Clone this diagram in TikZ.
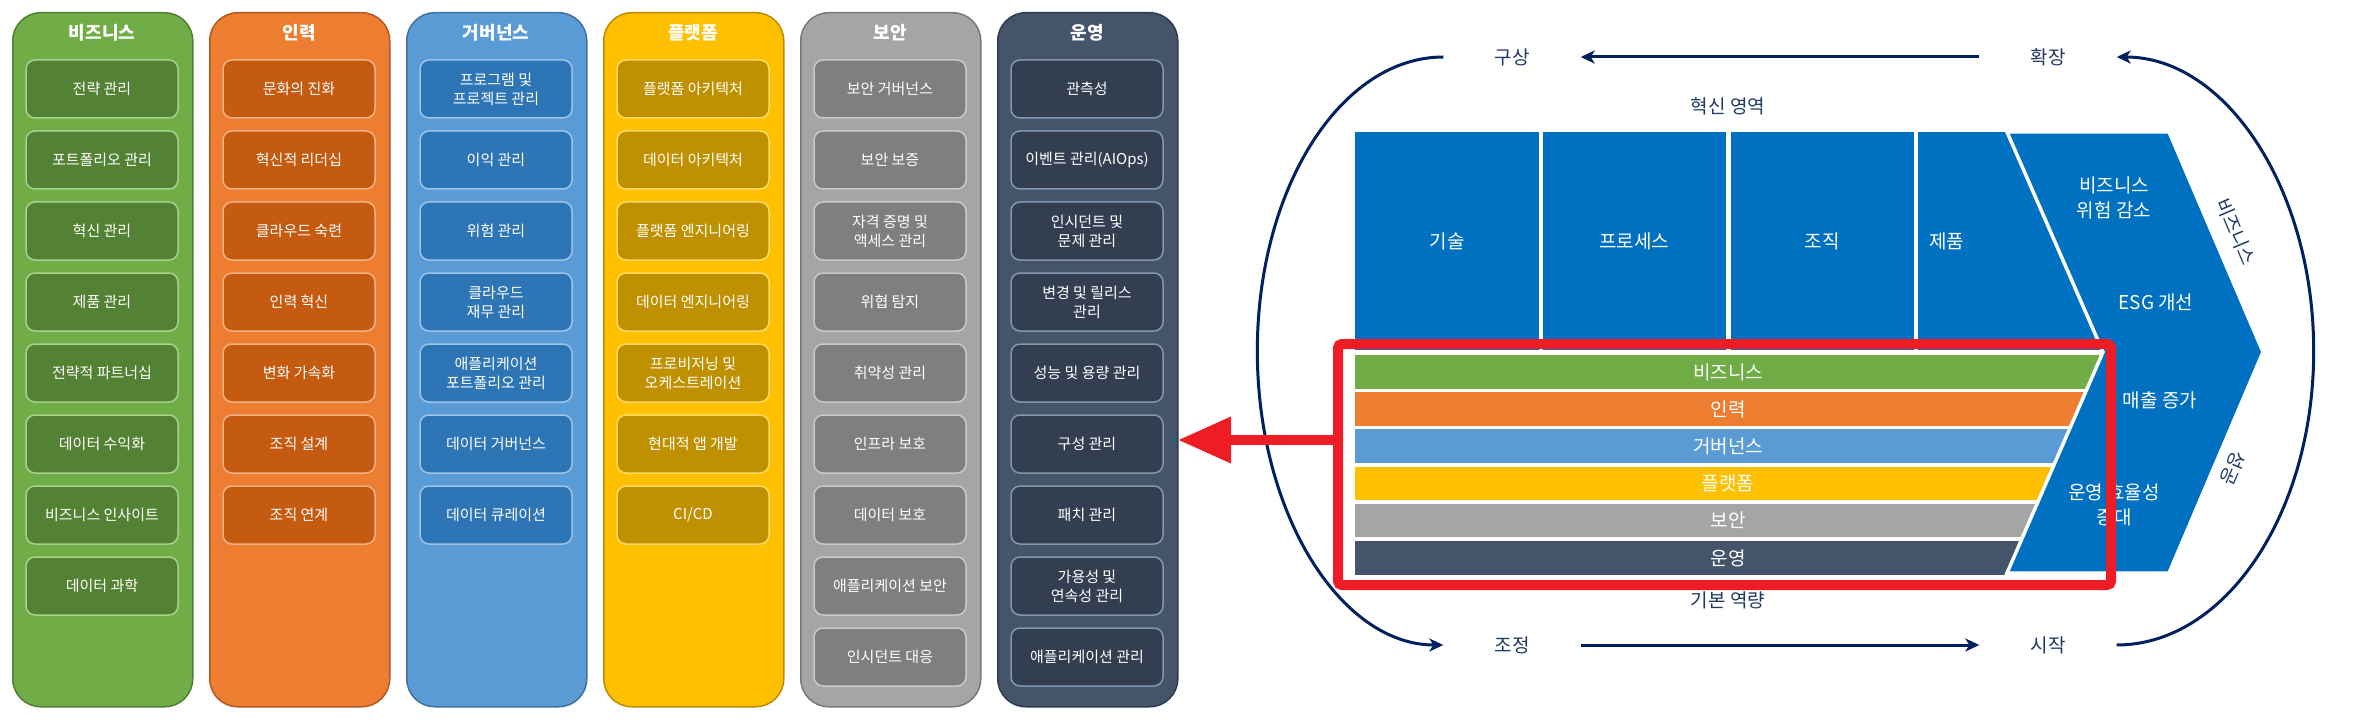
\documentclass[tikz,border=0pt]{standalone}
\usepackage{fontspec}
\setmainfont{Noto Sans CJK KR}
\usetikzlibrary{arrows.meta}

\definecolor{cgreen}{HTML}{70AD47}\definecolor{cgreenD}{HTML}{548235}\definecolor{cgreenL}{HTML}{A9D18E}\definecolor{cgreenB}{HTML}{507E32}
\definecolor{corange}{HTML}{ED7D31}\definecolor{corangeD}{HTML}{C55A11}\definecolor{corangeL}{HTML}{F4B183}\definecolor{corangeB}{HTML}{AE5A21}
\definecolor{cblue}{HTML}{5B9BD5}\definecolor{cblueD}{HTML}{2E75B6}\definecolor{cblueL}{HTML}{9DC3E6}\definecolor{cblueB}{HTML}{41719C}
\definecolor{cyellow}{HTML}{FFC000}\definecolor{cyellowD}{HTML}{BF9000}\definecolor{cyellowL}{HTML}{FFD966}\definecolor{cyellowB}{HTML}{BC8C00}
\definecolor{cgray}{HTML}{A5A5A5}\definecolor{cgrayD}{HTML}{7F7F7F}\definecolor{cgrayL}{HTML}{C9C9C9}\definecolor{cgrayB}{HTML}{787878}
\definecolor{cdark}{HTML}{44546A}\definecolor{cdarkD}{HTML}{333F50}\definecolor{cdarkL}{HTML}{8497B0}\definecolor{cdarkB}{HTML}{2F3B4C}
\definecolor{bblue}{HTML}{0070C0}
\definecolor{navy}{HTML}{002060}
\definecolor{navyT}{HTML}{203864}
\definecolor{redc}{HTML}{EE1C25}

\tikzset{
  colbox/.style={draw=#1B, fill=#1, line width=1.5pt, rounded corners=28pt,
    minimum width=180pt, minimum height=694pt, anchor=north west, inner sep=0pt},
  coltitle/.style={text=white, font=\bfseries\fontsize{18}{21}\selectfont, inner sep=0pt},
  itembox/.style={draw=#1L, fill=#1D, line width=1.5pt, rounded corners=9pt,
    minimum width=152pt, minimum height=58pt, text=white, align=center,
    font=\fontsize{15}{19}\selectfont, inner sep=0pt},
  wlabel/.style={text=white, align=center, font=\fontsize{19}{25}\selectfont, inner sep=0pt},
  nlabel/.style={text=navyT, align=center, font=\fontsize{19}{25}\selectfont, inner sep=0pt},
  cyclelabel/.style={text=navyT, font=\fontsize{19}{22}\selectfont, inner xsep=51pt, inner ysep=0pt},
  navyline/.style={draw=navy, line width=3pt},
  navyarrow/.style={navyline, -{Stealth[length=14pt,width=13pt,inset=4pt]}},
  redarrow/.style={draw=redc, line width=10pt, -{Triangle[length=53pt,width=44pt]}},
  redframe/.style={draw=redc, line width=10pt, rounded corners=4pt, inner sep=0pt,
    minimum width=773pt, minimum height=241pt},
}

\newcommand{\capcolumn}[4]{%
  \pgfmathsetmacro{\colx}{12+197*#1}
  \node[colbox=#2] (col#1) at (\colx,12) {};
  \node[coltitle] (title#1) at (\colx+90,33) {#3};
  \foreach \t [count=\i from 0] in {#4} {
    \node[itembox=#2] (item#1-\i) at (\colx+90, 89+71*\i) {\t};
  }
}

\begin{document}
\begin{tikzpicture}[x=1pt, y=-1pt]
\useasboundingbox (0,0) rectangle (2356,722);
\fill[white] (0,0) rectangle (2356,722);

% ---------- left: capability columns ----------
\capcolumn{0}{cgreen}{비즈니스}{전략 관리, 포트폴리오 관리, 혁신 관리, 제품 관리, 전략적 파트너십, 데이터 수익화, 비즈니스 인사이트, 데이터 과학}
\capcolumn{1}{corange}{인력}{문화의 진화, 혁신적 리더십, 클라우드 숙련, 인력 혁신, 변화 가속화, 조직 설계, 조직 연계}
\capcolumn{2}{cblue}{거버넌스}{{프로그램 및\\프로젝트 관리}, 이익 관리, 위험 관리, {클라우드\\재무 관리}, {애플리케이션\\포트폴리오 관리}, 데이터 거버넌스, 데이터 큐레이션}
\capcolumn{3}{cyellow}{플랫폼}{플랫폼 아키텍처, 데이터 아키텍처, 플랫폼 엔지니어링, 데이터 엔지니어링, {프로비저닝 및\\오케스트레이션}, 현대적 앱 개발, CI/CD}
\capcolumn{4}{cgray}{보안}{보안 거버넌스, 보안 보증, {자격 증명 및\\액세스 관리}, 위협 탐지, 취약성 관리, 인프라 보호, 데이터 보호, 애플리케이션 보안, 인시던트 대응}
\capcolumn{5}{cdark}{운영}{관측성, 이벤트 관리(AIOps), {인시던트 및\\문제 관리}, {변경 및 릴리스\\관리}, 성능 및 용량 관리, 구성 관리, 패치 관리, {가용성 및\\연속성 관리}, 애플리케이션 관리}

% ---------- right: innovation blocks ----------
\fill[bblue] (1355,132) rectangle (1539,350);
\fill[bblue] (1543,132) rectangle (1726,350);
\fill[bblue] (1731,132) rectangle (1914,350);
\fill[bblue] (1918,132) rectangle (2125,350);

% foundation stripes
\fill[cgreen]  (1355,355)   rectangle (2125,388.5);
\fill[corange] (1355,392.2) rectangle (2125,425.7);
\fill[cblue]   (1355,429.4) rectangle (2125,462.9);
\fill[cyellow] (1355,466.6) rectangle (2125,500.1);
\fill[cgray]   (1355,503.8) rectangle (2125,537.3);
\fill[cdark]   (1355,541)   rectangle (2125,574.5);

% chevron
\draw[white, line width=3.5pt, fill=bblue, line join=miter]
  (2007,132) -- (2169,132) -- (2263,352) -- (2169,573) -- (2007,573) -- (2103,352) -- cycle;

% block labels
\node[wlabel] (tech) at (1447,241) {기술};
\node[wlabel] (proc) at (1634,241) {프로세스};
\node[wlabel] (org) at (1822,241) {조직};
\node[wlabel, anchor=west] (prod) at (1929,241) {제품};

\node[wlabel] (sbiz) at (1728,372) {비즈니스};
\node[wlabel] (speo) at (1728,409) {인력};
\node[wlabel] (sgov) at (1728,446) {거버넌스};
\node[wlabel] (splat) at (1728,483.5) {플랫폼};
\node[wlabel] (ssec) at (1728,520.5) {보안};
\node[wlabel] (sops) at (1728,558) {운영};

\node[wlabel] (risk) at (2114,198) {비즈니스\\위험 감소};
\node[wlabel] (esg) at (2156,302) {ESG 개선};
\node[wlabel] (rev) at (2160,400) {매출 증가};
\node[wlabel] (eff) at (2114,505) {운영 효율성\\증대};

\node[nlabel] (innov) at (1728,106) {혁신 영역};
\node[nlabel] (found) at (1728,600) {기본 역량};

\node[nlabel, rotate=-67] (bizarc) at (2236,232) {비즈니스};
\node[nlabel, rotate=-113] (succarc) at (2233,468) {성공};

% cycle
\node[cyclelabel] (gusang) at (1512,57) {구상};
\node[cyclelabel] (hwakjang) at (2048,57) {확장};
\node[cyclelabel] (jojeong) at (1512,645) {조정};
\node[cyclelabel] (sijak) at (2048,645) {시작};

\draw[navyarrow] (hwakjang.west) -- (gusang.east);
\draw[navyarrow] (jojeong.east) -- (sijak.west);
\draw[navyarrow] (gusang.west) arc[start angle=-90, end angle=-270, x radius=186, y radius=294];
\draw[navyarrow] (sijak.east) arc[start angle=90, end angle=-90, x radius=197, y radius=294];

% red highlight
\node[redframe] (redbox) at (1724.5,464.5) {};
\coordinate (redtip) at (1178,440);
\draw[redarrow] (redbox.west |- redtip) -- (redtip);
\end{tikzpicture}
\end{document}
